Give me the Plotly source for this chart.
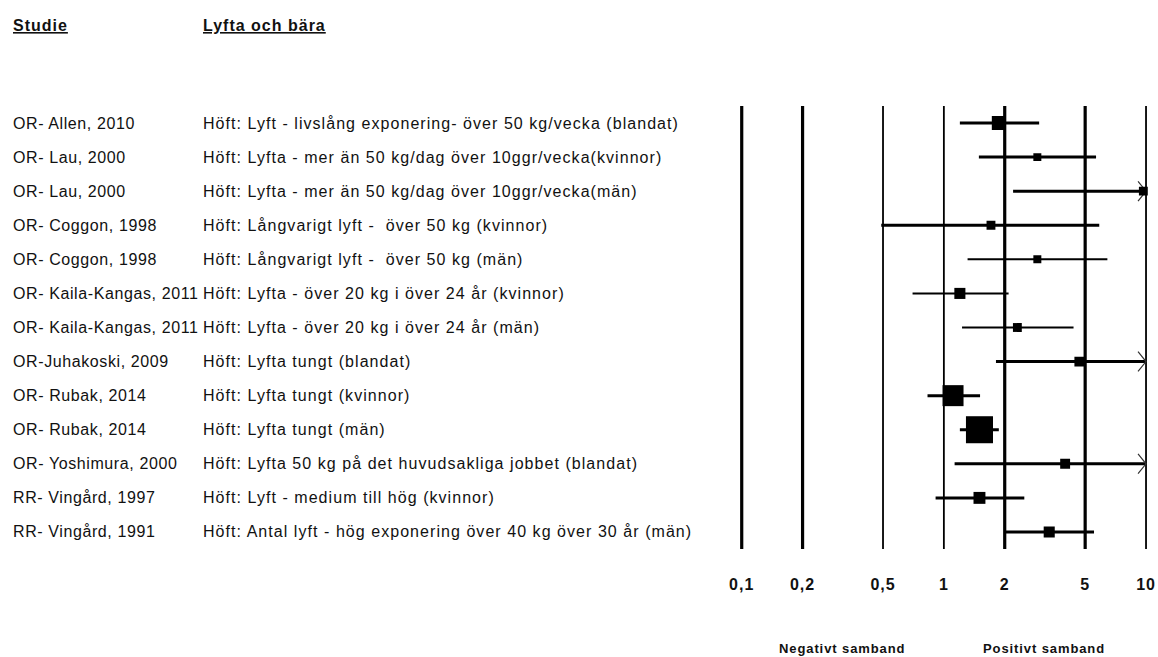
import numpy as np
import plotly.graph_objects as go

# ---- data -------------------------------------------------------------
studies = [
    "OR- Allen, 2010",
    "OR- Lau, 2000",
    "OR- Lau, 2000",
    "OR- Coggon, 1998",
    "OR- Coggon, 1998",
    "OR- Kaila-Kangas, 2011",
    "OR- Kaila-Kangas, 2011",
    "OR-Juhakoski, 2009",
    "OR- Rubak, 2014",
    "OR- Rubak, 2014",
    "OR- Yoshimura, 2000",
    "RR- Vingård, 1997",
    "RR- Vingård, 1991",
]
exposures = [
    "Höft: Lyft - livslång exponering- över 50 kg/vecka (blandat)",
    "Höft: Lyfta - mer än 50 kg/dag över 10ggr/vecka(kvinnor)",
    "Höft: Lyfta - mer än 50 kg/dag över 10ggr/vecka(män)",
    "Höft: Långvarigt lyft -\u00a0 över 50 kg (kvinnor)",
    "Höft: Långvarigt lyft -\u00a0 över 50 kg (män)",
    "Höft: Lyfta - över 20 kg i över 24 år (kvinnor)",
    "Höft: Lyfta - över 20 kg i över 24 år (män)",
    "Höft: Lyfta tungt (blandat)",
    "Höft: Lyfta tungt (kvinnor)",
    "Höft: Lyfta tungt (män)",
    "Höft: Lyfta 50 kg på det huvudsakliga jobbet (blandat)",
    "Höft: Lyft - medium till hög (kvinnor)",
    "Höft: Antal lyft - hög exponering över 40 kg över 30 år (män)",
]
estimate = [1.87, 2.90, 9.70, 1.71, 2.90, 1.20, 2.31, 4.68, 1.11, 1.50, 3.98, 1.50, 3.32]
ci_low = [1.20, 1.49, 2.20, 0.49, 1.31, 0.70, 1.23, 1.81, 0.83, 1.20, 1.13, 0.91, 2.00]
ci_high = [2.96, 5.66, 14.0, 5.87, 6.44, 2.09, 4.38, 12.0, 1.51, 1.87, 11.0, 2.50, 5.53]
weight = [4.0, 1.3, 1.6, 1.6, 1.3, 2.5, 1.6, 2.0, 9.0, 14.9, 2.0, 2.9, 2.5]

tick_vals = [0.1, 0.2, 0.5, 1, 2, 5, 10]
tick_text = ["0,1", "0,2", "0,5", "1", "2", "5", "10"]

# ---- layout geometry ---------------------------------------------------
W, H = 1158, 657
X_LO, X_HI = 0.1, 10
PX_LO, PX_HI = 741, 1146
PAD_DEC = 0.05
px_per_dec = (PX_HI - PX_LO) / (np.log10(X_HI) - np.log10(X_LO))
dom_x = [(PX_LO - PAD_DEC * px_per_dec) / W, (PX_HI + PAD_DEC * px_per_dec) / W]
TOP_PX, BOT_PX = 106, 549
dom_y = [1 - BOT_PX / H, 1 - TOP_PX / H]
COL1_PX, COL2_PX = 9, 199

n = len(studies)
rows = list(range(n))
thick_refs = {0.1, 0.2, 2, 5}
thin_ci_rows = {4, 5, 6}

def spaced(txt, ls):
    return f'<span style="letter-spacing:{ls}px">{txt}</span>'

FONT = "Liberation Sans, Arial, sans-serif"
fig = go.Figure()

# vertical reference lines at each tick
for v in tick_vals:
    fig.add_trace(go.Scatter(
        x=[v, v], y=[-0.5, n - 0.5], mode="lines",
        line=dict(color="black", width=3.2 if v in thick_refs else 1.8),
        hoverinfo="skip", showlegend=False))

# confidence intervals (open chevron where the upper limit runs off scale)
for i in rows:
    hi = min(ci_high[i], X_HI)
    fig.add_trace(go.Scatter(
        x=[ci_low[i], hi], y=[i, i], mode="lines",
        line=dict(color="black", width=2 if i in thin_ci_rows else 3),
        hoverinfo="skip", showlegend=False))
    if ci_high[i] > X_HI:
        xa = X_HI * 10 ** (-8 / px_per_dec)
        fig.add_trace(go.Scatter(
            x=[xa, X_HI, xa], y=[i - 0.29, i, i + 0.29], mode="lines",
            line=dict(color="#333333", width=1.2),
            hoverinfo="skip", showlegend=False))

# point estimates, square area proportional to weight
fig.add_trace(go.Scatter(
    x=[min(e, X_HI) for e in estimate], y=rows, mode="markers",
    marker=dict(symbol="square", color="black", opacity=1,
                size=[7 * np.sqrt(w) for w in weight], line=dict(width=0)),
    hoverinfo="skip", showlegend=False))

annotations = []
for i in rows:
    annotations.append(dict(
        x=COL1_PX / W, xref="paper", y=i, yref="y", xanchor="left", yanchor="middle",
        text=spaced(studies[i], 0.6), showarrow=False,
        font=dict(family=FONT, size=16, color="#111111")))
    annotations.append(dict(
        x=COL2_PX / W, xref="paper", y=i, yref="y", xanchor="left", yanchor="middle",
        text=spaced(exposures[i], 1.05), showarrow=False,
        font=dict(family=FONT, size=16, color="#111111")))

for txt, px in [("Studie", COL1_PX), ("Lyfta och bära", COL2_PX)]:
    annotations.append(dict(
        x=px / W, xref="paper", y=1 - 25 / H, yref="paper",
        xanchor="left", yanchor="middle", text=spaced(txt, 1), showarrow=False,
        font=dict(family=FONT, size=16, color="#111111", weight="bold",
                  lineposition="under")))

for txt, px in [("Negativt samband", 841.5), ("Positivt samband", 1044)]:
    annotations.append(dict(
        x=px / W, xref="paper", y=1 - 648 / H, yref="paper",
        xanchor="center", yanchor="middle", text=spaced(txt, 0.9),
        showarrow=False,
        font=dict(family=FONT, size=13, color="#111111", weight="bold")))

fig.update_layout(
    width=W, height=H, autosize=False,
    margin=dict(l=0, r=0, t=0, b=0, pad=0),
    paper_bgcolor="white", plot_bgcolor="white",
    showlegend=False,
    annotations=annotations,
    xaxis=dict(
        type="log", domain=dom_x,
        range=[np.log10(X_LO) - PAD_DEC, np.log10(X_HI) + PAD_DEC],
        tickvals=tick_vals, ticktext=[spaced(t, 1) for t in tick_text],
        tickfont=dict(family=FONT, size=16, color="#111111", weight="bold"),
        ticks="", showgrid=False, zeroline=False, showline=False,
        ticklabelstandoff=24, fixedrange=True),
    yaxis=dict(
        domain=dom_y, range=[n - 0.5, -0.5], showticklabels=False,
        showgrid=False, zeroline=False, showline=False, ticks="",
        fixedrange=True),
)

fig.write_html("out.html")
